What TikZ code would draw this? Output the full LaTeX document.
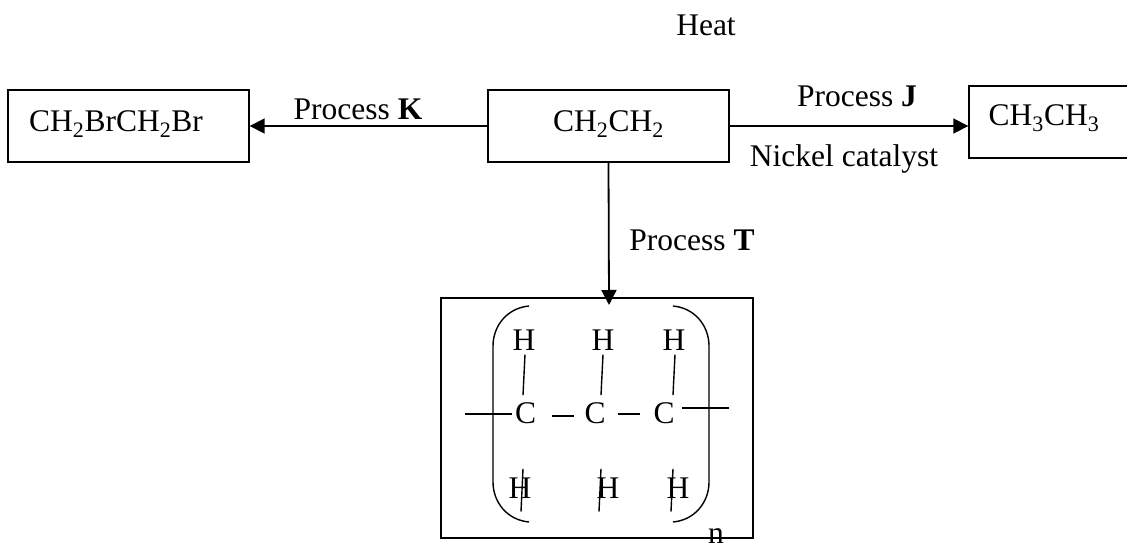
\documentclass[tikz,border=0pt]{standalone}
\usepackage{fontspec}
\usetikzlibrary{arrows.meta}
\setmainfont{Liberation Serif}
\newcommand{\chemsub}[1]{\textsubscript{#1}}
\begin{document}
\begin{tikzpicture}[
  x=1pt, y=-1pt,
  font=\fontsize{31.5}{36}\selectfont,
  box/.style={draw, line width=1.4pt, minimum height=72pt, inner sep=0pt},
  lbl/.style={inner sep=0pt},
  link/.style={line width=1.4pt},
  flow/.style={line width=1.8pt, -{Triangle[length=15pt,width=15pt]}},
  bracket/.style={line width=1.4pt}
]
\useasboundingbox (0,0) rectangle (1127,546);
\node[box, minimum width=241pt] (ch2br) at (128.5,126) {};
\node[box, minimum width=241pt] (ch2) at (608.5,126) {};
\node[box, minimum width=166pt] (ch3) at (1052,122) {};
\node[box, minimum width=312pt, minimum height=240pt] (poly) at (597,418) {};
\node[lbl] (t1) at (116,124) {CH\chemsub{2}BrCH\chemsub{2}Br};
\node[lbl] (t2) at (608.5,124) {CH\chemsub{2}CH\chemsub{2}};
\node[lbl] (t3) at (1044,118) {CH\chemsub{3}CH\chemsub{3}};
\node[lbl] (heat) at (706,25) {Heat};
\node[lbl] (k) at (358,109) {Process \textbf{K}};
\node[lbl] (j) at (857,96) {Process \textbf{J}};
\node[lbl] (cat) at (844,159) {Nickel catalyst};
\node[lbl] (tt) at (692,240) {Process \textbf{T}};
\node[lbl] (n) at (716,536) {n};
% atoms
\node[lbl] (h1) at (524,340) {H};
\node[lbl] (h2) at (603,340) {H};
\node[lbl] (h3) at (674,340) {H};
\node[lbl] (c1) at (525.5,413) {C};
\node[lbl] (c2) at (595,413) {C};
\node[lbl] (c3) at (664,413) {C};
\node[lbl] (h4) at (520,488) {H};
\node[lbl] (h5) at (608,488) {H};
\node[lbl] (h6) at (678,488) {H};
\coordinate (tipT) at (609,305);
\coordinate (endL) at (465,414);
\coordinate (endR) at (729,408);
\draw[flow] (ch2.west) -- (ch2br.east);
\draw[flow] (ch2.east) -- (ch3.west |- ch2.east);
\draw[flow] (ch2.south) -- (tipT);
% bonds
\draw[link] ([shift={(1,4)}]h1.south) -- ([shift={(-2.5,-7)}]c1.north);
\draw[link] ([shift={(0,4)}]h2.south) -- ([shift={(6,-7)}]c2.north);
\draw[link] ([shift={(1,4)}]h3.south) -- ([shift={(9,-7)}]c3.north);
\draw[link] ([shift={(-2.5,45)}]c1.south) -- ([shift={(1,13)}]h4.south);
\draw[link] ([shift={(6,45)}]c2.south) -- ([shift={(-9,13)}]h5.south);
\draw[link] ([shift={(9,45)}]c3.south) -- ([shift={(-7,13)}]h6.south);
\draw[link] (endL) -- ([shift={(-2.5,1)}]c1.west);
\draw[link] ([shift={(15.5,3)}]c1.east) -- ([shift={(-10,3)}]c2.west);
\draw[link] ([shift={(12,1)}]c2.east) -- ([shift={(-13,1)}]c3.west);
\draw[link] ([shift={(7,-5)}]c3.east) -- (endR);
% brackets
\draw[bracket] (529,306) .. controls (507,308) and (493,326) .. (493,346) -- (493,482) .. controls (493,502) and (507,520) .. (529,522);
\draw[bracket] (673,306) .. controls (695,308) and (709,326) .. (709,346) -- (709,482) .. controls (709,502) and (695,520) .. (673,522);
\end{tikzpicture}
\end{document}
